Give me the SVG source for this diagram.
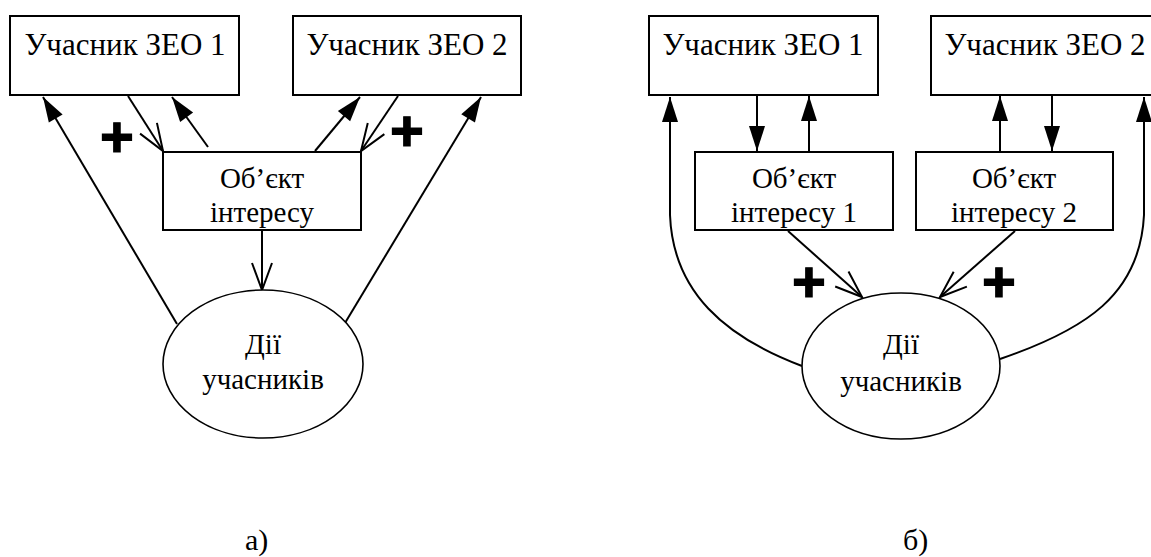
<svg xmlns="http://www.w3.org/2000/svg" width="1151" height="557" viewBox="0 0 1151 557">
<style>
.box{fill:#fff;stroke:#000;stroke-width:2}
.ell{fill:#fff;stroke:#000;stroke-width:1.6}
.lbl{font-family:"Liberation Serif","Times New Roman",serif;font-size:31px;text-anchor:middle;fill:#000}
.sm{font-size:29px}
.cap{font-family:"Liberation Serif","Times New Roman",serif;font-size:30px;fill:#000}
.c{stroke:#000;stroke-width:2;fill:none}
.f{marker-end:url(#af)}
.o{marker-end:url(#ao)}
.plus{font-family:"Liberation Sans",Arial,sans-serif;font-weight:bold;font-size:58px;text-anchor:middle;fill:#000;stroke:#000;stroke-width:1.2}
</style>
<defs>
<marker id="af" viewBox="-27 -10 30 20" refX="0" refY="0" markerWidth="30" markerHeight="20" markerUnits="userSpaceOnUse" orient="auto"><path d="M0,0 L-25,-8 L-25,8 Z" fill="#000"/></marker>
<marker id="ao" viewBox="-30 -12 34 24" refX="0" refY="0" markerWidth="34" markerHeight="24" markerUnits="userSpaceOnUse" orient="auto"><path d="M-27,-10 L0,0 L-27,10" fill="none" stroke="#000" stroke-width="2"/></marker>
</defs>
<rect width="1151" height="557" fill="#fff"/>

<g id="connectors">
<line class="c f" x1="177" y1="324" x2="43" y2="97"/>
<line class="c o" x1="128" y1="96" x2="163" y2="151"/>
<line class="c f" x1="208" y1="147" x2="172" y2="97"/>
<line class="c f" x1="315" y1="151" x2="360" y2="97"/>
<line class="c o" x1="398" y1="96" x2="361" y2="151"/>
<line class="c f" x1="345" y1="323" x2="481" y2="97"/>
<line class="c o" x1="262" y1="231" x2="262" y2="290"/>

<line class="c f" x1="757" y1="96" x2="757" y2="151"/>
<line class="c f" x1="809" y1="151" x2="809" y2="96"/>
<line class="c f" x1="1052" y1="96" x2="1052" y2="151"/>
<line class="c f" x1="1000" y1="151" x2="1000" y2="96"/>
<line class="c o" x1="788" y1="231" x2="862" y2="297"/>
<line class="c o" x1="1015" y1="231" x2="940" y2="297"/>
<path class="c f" d="M802,366 C725,337 673,292 670,215 L670,97"/>
<path class="c f" d="M1000,359 C1085,330 1140,295 1144,215 L1144,97"/>
</g>

<g id="a-zeo1"><rect class="box" x="10" y="16" width="229" height="79"/><text class="lbl" x="125" y="55">Учасник ЗЕО 1</text></g>
<g id="a-zeo2"><rect class="box" x="293" y="16" width="228" height="79"/><text class="lbl" x="407" y="55">Учасник ЗЕО 2</text></g>
<g id="a-obj"><rect class="box" x="163" y="152" width="198" height="78"/><text class="lbl sm" x="262" y="188">Об’єкт</text><text class="lbl sm" x="262" y="222">інтересу</text></g>
<g id="a-act"><ellipse class="ell" cx="263" cy="364" rx="100" ry="74"/><text class="lbl sm" x="263" y="354">Дії</text><text class="lbl sm" x="263" y="389">учасників</text></g>
<g id="a-plus1"><text class="plus" x="117" y="157">+</text></g>
<g id="a-plus2"><text class="plus" x="407" y="151">+</text></g>
<g id="a-cap"><text class="cap" x="245" y="550">а)</text></g>

<g id="b-zeo1"><rect class="box" x="649" y="16" width="229" height="79"/><text class="lbl" x="763" y="55">Учасник ЗЕО 1</text></g>
<g id="b-zeo2"><rect class="box" x="931" y="16" width="229" height="79"/><text class="lbl" x="1045" y="55">Учасник ЗЕО 2</text></g>
<g id="b-obj1"><rect class="box" x="695" y="152" width="198" height="78"/><text class="lbl sm" x="794" y="188">Об’єкт</text><text class="lbl sm" x="794" y="222">інтересу 1</text></g>
<g id="b-obj2"><rect class="box" x="916" y="152" width="197" height="78"/><text class="lbl sm" x="1014" y="188">Об’єкт</text><text class="lbl sm" x="1014" y="222">інтересу 2</text></g>
<g id="b-act"><ellipse class="ell" cx="901" cy="366" rx="99" ry="73"/><text class="lbl sm" x="901" y="354">Дії</text><text class="lbl sm" x="901" y="391">учасників</text></g>
<g id="b-plus1"><text class="plus" x="809" y="302">+</text></g>
<g id="b-plus2"><text class="plus" x="999" y="302">+</text></g>
<g id="b-cap"><text class="cap" x="903" y="550">б)</text></g>
</svg>
